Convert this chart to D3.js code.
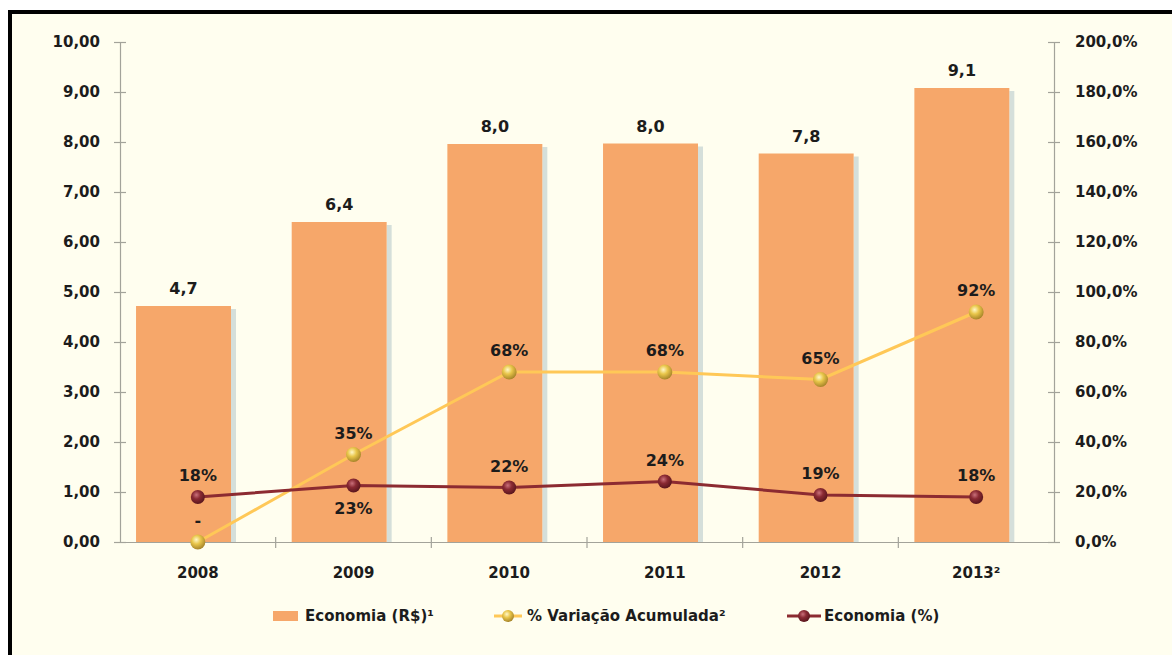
<!DOCTYPE html>
<html>
<head>
<meta charset="utf-8">
<script src="https://cdn.jsdelivr.net/npm/d3@7"></script>
<style>
  html, body { margin: 0; padding: 0; background: #ffffff; }
  svg { display: block; }
  text { font-family: "DejaVu Sans", Verdana, sans-serif; font-weight: bold; fill: #1c1c1c; }
</style>
</head>
<body>
<svg id="chart" width="1172" height="655"></svg>
<script>
// ---- data ----
const categories = ["2008", "2009", "2010", "2011", "2012", "2013²"];
const economiaRS = [4.72, 6.40, 7.96, 7.97, 7.77, 9.08];          // left axis (R$)
const variacaoAcumulada = [0, 35, 68, 68, 65, 92];                 // right axis (%)
const economiaPct = [18, 22.6, 21.8, 24.2, 18.8, 18];              // right axis (%)
const leftTicks = [0, 1, 2, 3, 4, 5, 6, 7, 8, 9, 10];
const rightTicks = [0, 20, 40, 60, 80, 100, 120, 140, 160, 180, 200];
const legendLabels = ["Economia (R$)¹", "% Variação Acumulada²", "Economia (%)"];

// ---- layout ----
const W = 1172, H = 655;
const plot = { left: 120, right: 1054, top: 42, bottom: 542 };
const C = {
  bg: "#FFFEEF", bar: "#F6A76A", shadow: "#D5DFDA", axis: "#A3A39A",
  yellow: "#FFC857", red: "#8C2B31"
};

const ptBR = d3.formatLocale({ decimal: ",", thousands: ".", grouping: [3], currency: ["R$ ", ""] });
const fmt2 = ptBR.format(".2f"), fmt1 = ptBR.format(".1f"), fmt0 = ptBR.format(".0f");

const svg = d3.select("#chart");
const defs = svg.append("defs");

function sphere(id, hi, mid, edge) {
  const g = defs.append("radialGradient").attr("id", id)
    .attr("cx", "40%").attr("cy", "35%").attr("r", "65%");
  g.append("stop").attr("offset", "0%").attr("stop-color", hi);
  g.append("stop").attr("offset", "45%").attr("stop-color", mid);
  g.append("stop").attr("offset", "100%").attr("stop-color", edge);
}
sphere("gY", "#FFF7C8", "#E9C64A", "#A8862A");
sphere("gR", "#C9707A", "#8A2A33", "#5A161D");

// frame
svg.append("rect").attr("x", 10).attr("y", 12).attr("width", W + 10).attr("height", H + 10)
  .attr("fill", C.bg).attr("stroke", "#000").attr("stroke-width", 4);

// ---- scales ----
const x = d3.scaleBand().domain(categories).range([plot.left, plot.right]).padding(0);
const bw = x.bandwidth();
const yL = d3.scaleLinear().domain([0, 10]).range([plot.bottom, plot.top]);
const yR = d3.scaleLinear().domain([0, 200]).range([plot.bottom, plot.top]);
const cx = c => x(c) + bw / 2;

// ---- bars ----
const barOff = bw * 0.103, barW = bw * 0.61;
const bars = svg.append("g");
bars.selectAll("rect.shadow").data(categories).join("rect").attr("class", "shadow")
  .attr("x", c => x(c) + barOff + barW).attr("width", 5)
  .attr("y", (c, i) => yL(economiaRS[i]) + 3).attr("height", (c, i) => plot.bottom - yL(economiaRS[i]) - 3)
  .attr("fill", C.shadow);
bars.selectAll("rect.bar").data(categories).join("rect").attr("class", "bar")
  .attr("x", c => x(c) + barOff).attr("width", barW)
  .attr("y", (c, i) => yL(economiaRS[i])).attr("height", (c, i) => plot.bottom - yL(economiaRS[i]))
  .attr("fill", C.bar);

// ---- axes ----
function styleAxis(g) {
  g.select(".domain").attr("stroke", C.axis).attr("stroke-width", 1.2);
  g.selectAll(".tick line").attr("stroke", C.axis).attr("stroke-width", 1.2);
  g.selectAll(".tick text").style("font-size", "15px").style("font-family", "DejaVu Sans, sans-serif")
    .style("font-weight", "bold").attr("fill", "#1c1c1c");
}
const axL = svg.append("g").attr("transform", `translate(${plot.left},0)`)
  .call(d3.axisLeft(yL).tickValues(leftTicks).tickFormat(fmt2).tickSizeOuter(0).tickSize(6).tickPadding(14));
axL.selectAll(".tick line").attr("x1", -6).attr("x2", 6);
styleAxis(axL);

const axR = svg.append("g").attr("transform", `translate(${plot.right},0)`)
  .call(d3.axisRight(yR).tickValues(rightTicks).tickFormat(d => fmt1(d) + "%").tickSizeOuter(0).tickSize(6).tickPadding(15));
axR.selectAll(".tick line").attr("x1", -6).attr("x2", 6);
styleAxis(axR);

const axB = svg.append("g").attr("transform", `translate(0,${plot.bottom})`)
  .call(d3.axisBottom(x).tickSize(0).tickSizeOuter(0).tickPadding(34));
styleAxis(axB);
axB.selectAll(".tick text").attr("dy", "0.1em");
// category boundary ticks
const bounds = categories.map(c => x(c)).slice(1);
axB.selectAll("line.bound").data(bounds).join("line").attr("class", "bound")
  .attr("x1", d => d).attr("x2", d => d).attr("y1", -5).attr("y2", 6)
  .attr("stroke", C.axis).attr("stroke-width", 1.2);

// ---- lines ----
const lineY = d3.line().x((d, i) => cx(categories[i])).y(d => yR(d));
svg.append("path").datum(variacaoAcumulada).attr("d", lineY)
  .attr("fill", "none").attr("stroke", C.yellow).attr("stroke-width", 3);
svg.append("path").datum(economiaPct).attr("d", lineY)
  .attr("fill", "none").attr("stroke", C.red).attr("stroke-width", 3);

svg.append("g").selectAll("circle").data(variacaoAcumulada).join("circle")
  .attr("cx", (d, i) => cx(categories[i])).attr("cy", d => yR(d)).attr("r", 7.5)
  .attr("fill", "url(#gY)");
svg.append("g").selectAll("circle").data(economiaPct).join("circle")
  .attr("cx", (d, i) => cx(categories[i])).attr("cy", d => yR(d)).attr("r", 7)
  .attr("fill", "url(#gR)");

// ---- data labels ----
svg.append("g").selectAll("text").data(economiaRS).join("text")
  .attr("x", (d, i) => x(categories[i]) + barOff + barW / 2)
  .attr("y", d => yL(d) - 12).attr("text-anchor", "middle").style("font-size", "16px")
  .text(d => fmt1(d));

svg.append("g").selectAll("text").data(variacaoAcumulada).join("text")
  .attr("x", (d, i) => cx(categories[i])).attr("y", d => yR(d) - 16)
  .attr("text-anchor", "middle").style("font-size", "16px")
  .text(d => d === 0 ? "-" : fmt0(d) + "%");

const redBelow = new Set(["2009"]);
svg.append("g").selectAll("text").data(economiaPct).join("text")
  .attr("x", (d, i) => cx(categories[i]))
  .attr("y", (d, i) => redBelow.has(categories[i]) ? yR(d) + 28 : yR(d) - 16)
  .attr("text-anchor", "middle").style("font-size", "16px")
  .text(d => fmt0(d) + "%");

// ---- legend ----
const ly = 616;
const lg = svg.append("g").style("font-size", "15px");
lg.append("rect").attr("x", 273).attr("y", ly - 5).attr("width", 25).attr("height", 10).attr("fill", C.bar);
lg.append("text").attr("x", 305).attr("y", ly + 5).text(legendLabels[0]);
lg.append("line").attr("x1", 494).attr("x2", 522).attr("y1", ly).attr("y2", ly).attr("stroke", C.yellow).attr("stroke-width", 3);
lg.append("circle").attr("cx", 508).attr("cy", ly).attr("r", 6).attr("fill", "url(#gY)");
lg.append("text").attr("x", 527).attr("y", ly + 5).text(legendLabels[1]);
lg.append("line").attr("x1", 787).attr("x2", 821).attr("y1", ly).attr("y2", ly).attr("stroke", C.red).attr("stroke-width", 3);
lg.append("circle").attr("cx", 804).attr("cy", ly).attr("r", 6).attr("fill", "url(#gR)");
lg.append("text").attr("x", 824).attr("y", ly + 5).text(legendLabels[2]);
</script>
</body>
</html>
